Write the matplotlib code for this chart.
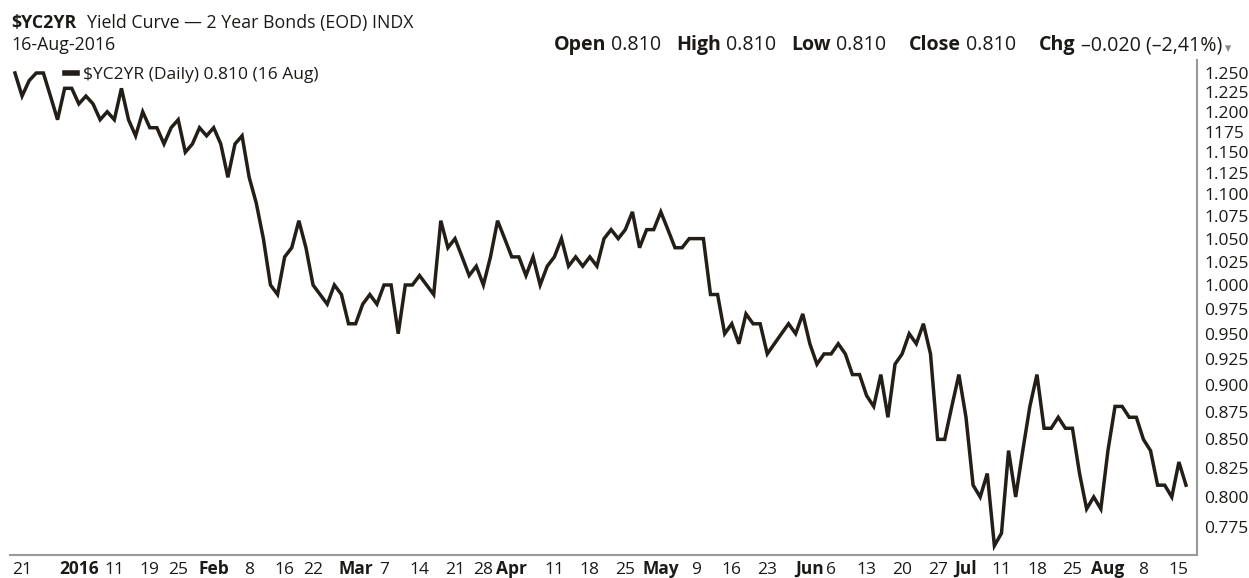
import pandas as pd
import matplotlib.pyplot as plt
from matplotlib.ticker import FixedLocator, FixedFormatter, NullLocator

plt.rcParams['font.family'] = ['Open Sans', 'DejaVu Sans']

# bond market trading days, 18 Dec 2015 .. 16 Aug 2016
holidays = ['2015-12-25', '2016-01-01', '2016-01-18', '2016-02-15',
            '2016-03-25', '2016-05-30', '2016-07-04']
dates = pd.bdate_range('2015-12-18', '2016-08-16', freq='C', holidays=holidays)

# daily close of $YC2YR
yields = [
    1.25, 1.22, 1.24, 1.25, 1.25, 1.22, 1.19, 1.23, 1.23, 1.21,
    1.22, 1.21, 1.19, 1.20, 1.19, 1.23, 1.19, 1.17, 1.20, 1.18,
    1.18, 1.16, 1.18, 1.19, 1.15, 1.16, 1.18, 1.17, 1.18, 1.16,
    1.12, 1.16, 1.17, 1.12, 1.09, 1.05, 1.00, 0.99, 1.03, 1.04,
    1.07, 1.04, 1.00, 0.99, 0.98, 1.00, 0.99, 0.96, 0.96, 0.98,
    0.99, 0.98, 1.00, 1.00, 0.95, 1.00, 1.00, 1.01, 1.00, 0.99,
    1.07, 1.04, 1.05, 1.03, 1.01, 1.02, 1.00, 1.03, 1.07, 1.05,
    1.03, 1.03, 1.01, 1.03, 1.00, 1.02, 1.03, 1.05, 1.02, 1.03,
    1.02, 1.03, 1.02, 1.05, 1.06, 1.05, 1.06, 1.08, 1.04, 1.06,
    1.06, 1.08, 1.06, 1.04, 1.04, 1.05, 1.05, 1.05, 0.99, 0.99,
    0.95, 0.96, 0.94, 0.97, 0.96, 0.96, 0.93, 0.94, 0.95, 0.96,
    0.95, 0.97, 0.94, 0.92, 0.93, 0.93, 0.94, 0.93, 0.91, 0.91,
    0.89, 0.88, 0.91, 0.87, 0.92, 0.93, 0.95, 0.94, 0.96, 0.93,
    0.85, 0.85, 0.88, 0.91, 0.87, 0.81, 0.80, 0.82, 0.76, 0.77,
    0.84, 0.80, 0.84, 0.88, 0.91, 0.86, 0.86, 0.87, 0.86, 0.86,
    0.82, 0.79, 0.80, 0.79, 0.84, 0.88, 0.88, 0.87, 0.87, 0.85,
    0.84, 0.81, 0.81, 0.80, 0.83, 0.81,
]
assert len(yields) == len(dates)

tick_dates = ['2015-12-21', '2016-01-04', '2016-01-11', '2016-01-19', '2016-01-25',
              '2016-02-01', '2016-02-08', '2016-02-16', '2016-02-22', '2016-03-01',
              '2016-03-07', '2016-03-14', '2016-03-21', '2016-03-28', '2016-04-01',
              '2016-04-11', '2016-04-18', '2016-04-25', '2016-05-02', '2016-05-09',
              '2016-05-16', '2016-05-23', '2016-06-01', '2016-06-06', '2016-06-13',
              '2016-06-20', '2016-06-27', '2016-07-01', '2016-07-11', '2016-07-18',
              '2016-07-25', '2016-08-01', '2016-08-08', '2016-08-15']
tick_labels = ['21', '2016', '11', '19', '25', 'Feb', '8', '16', '22', 'Mar',
               '7', '14', '21', '28', 'Apr', '11', '18', '25', 'May', '9',
               '16', '23', 'Jun', '6', '13', '20', '27', 'Jul', '11', '18',
               '25', 'Aug', '8', '15']
bold_labels = {'2016', 'Jan', 'Feb', 'Mar', 'Apr', 'May', 'Jun', 'Jul', 'Aug'}

y_ticks = [0.775, 0.800, 0.825, 0.850, 0.875, 0.900, 0.925, 0.950, 0.975, 1.000,
           1.025, 1.050, 1.075, 1.100, 1.125, 1.150, 1.175, 1.200, 1.225, 1.250]
y_labels = ['0.775', '0.800', '0.825', '0.850', '0.875', '0.900', '0.925', '0.950',
            '0.975', '1.000', '1.025', '1.050', '1.075', '1.100', '1.125', '1.150',
            '1175', '1.200', '1.225', '1.250']

W, H = 1249, 578
TXT = '#1c1a17'
LINE = '#231e17'
FS = 12.5      # axis labels

fig = plt.figure(figsize=(W / 100, H / 100), dpi=100)
ax = fig.add_axes([10 / W, 23 / H, 1187 / W, 495 / H])

x = list(range(len(dates)))
ax.plot(x, yields, color=LINE, lw=2.5, solid_joinstyle='miter',
        label='\\$YC2YR (Daily) 0.810 (16 Aug)')

ax.set_yscale('log')
ax.set_ylim(0.7526, 1.2672)
ax.set_xlim(-0.7, len(dates) + 0.55)

ax.yaxis.set_major_locator(FixedLocator(y_ticks))
ax.yaxis.set_major_formatter(FixedFormatter(y_labels))
ax.yaxis.set_minor_locator(NullLocator())
ax.yaxis.tick_right()
ax.tick_params(axis='y', length=0, pad=5, labelsize=FS, labelcolor=TXT)

tick_pos = [dates.get_loc(pd.Timestamp(d)) for d in tick_dates]
ax.set_xticks(tick_pos)
ax.set_xticklabels(tick_labels)
ax.tick_params(axis='x', length=0, pad=13.5, labelsize=FS, labelcolor=TXT)
for t in ax.get_xticklabels():
    t.set_verticalalignment('baseline')
    if t.get_text() in bold_labels:
        t.set_fontweight('bold')

for side in ['top', 'left']:
    ax.spines[side].set_visible(False)
for side in ['right', 'bottom']:
    ax.spines[side].set_color('#9a9a9a')
    ax.spines[side].set_linewidth(1.5)

leg = ax.legend(loc='upper left', bbox_to_anchor=(48 / 1187, 1.0), frameon=False,
                handlelength=0.7, handletextpad=0.35, borderaxespad=0,
                fontsize=FS, labelcolor=TXT)
leg.get_lines()[0].set_linewidth(4)

renderer = fig.canvas.get_renderer()


def put_runs(x0, base, runs, size, right=False):
    # runs: (text, weight, gap before in px); base = baseline px from top
    items = []
    for s, wt, gap in runs:
        t = fig.text(0, 0, s, fontsize=size, fontweight=wt, color=TXT, va='baseline')
        items.append((t, gap, t.get_window_extent(renderer).width))
    total = sum(g + w for _, g, w in items)
    xx = x0 - total if right else x0
    for t, gap, w in items:
        xx += gap
        t.set_position((xx / W, 1 - base / H))
        xx += w


put_runs(11, 28, [('\\$YC2YR', 'bold', 0),
                  ('Yield Curve — 2 Year Bonds (EOD) INDX', 'normal', 11)], 12.8)
put_runs(11, 50, [('16-Aug-2016', 'normal', 0)], 12.8)
put_runs(1222, 50, [('Open', 'bold', 0), ('0.810', 'normal', 5),
                    ('High', 'bold', 15), ('0.810', 'normal', 5),
                    ('Low', 'bold', 15), ('0.810', 'normal', 5),
                    ('Close', 'bold', 23), ('0.810', 'normal', 5),
                    ('Chg', 'bold', 23), ('–0.020 (–2,41%)', 'normal', 5)],
         14.1, right=True)
fig.text(1225 / W, 1 - 52 / H, '▾', fontsize=9, color='#8a8a8a', va='baseline',
         family=['DejaVu Sans'])

fig.savefig('out.png', dpi=100, facecolor='white')
